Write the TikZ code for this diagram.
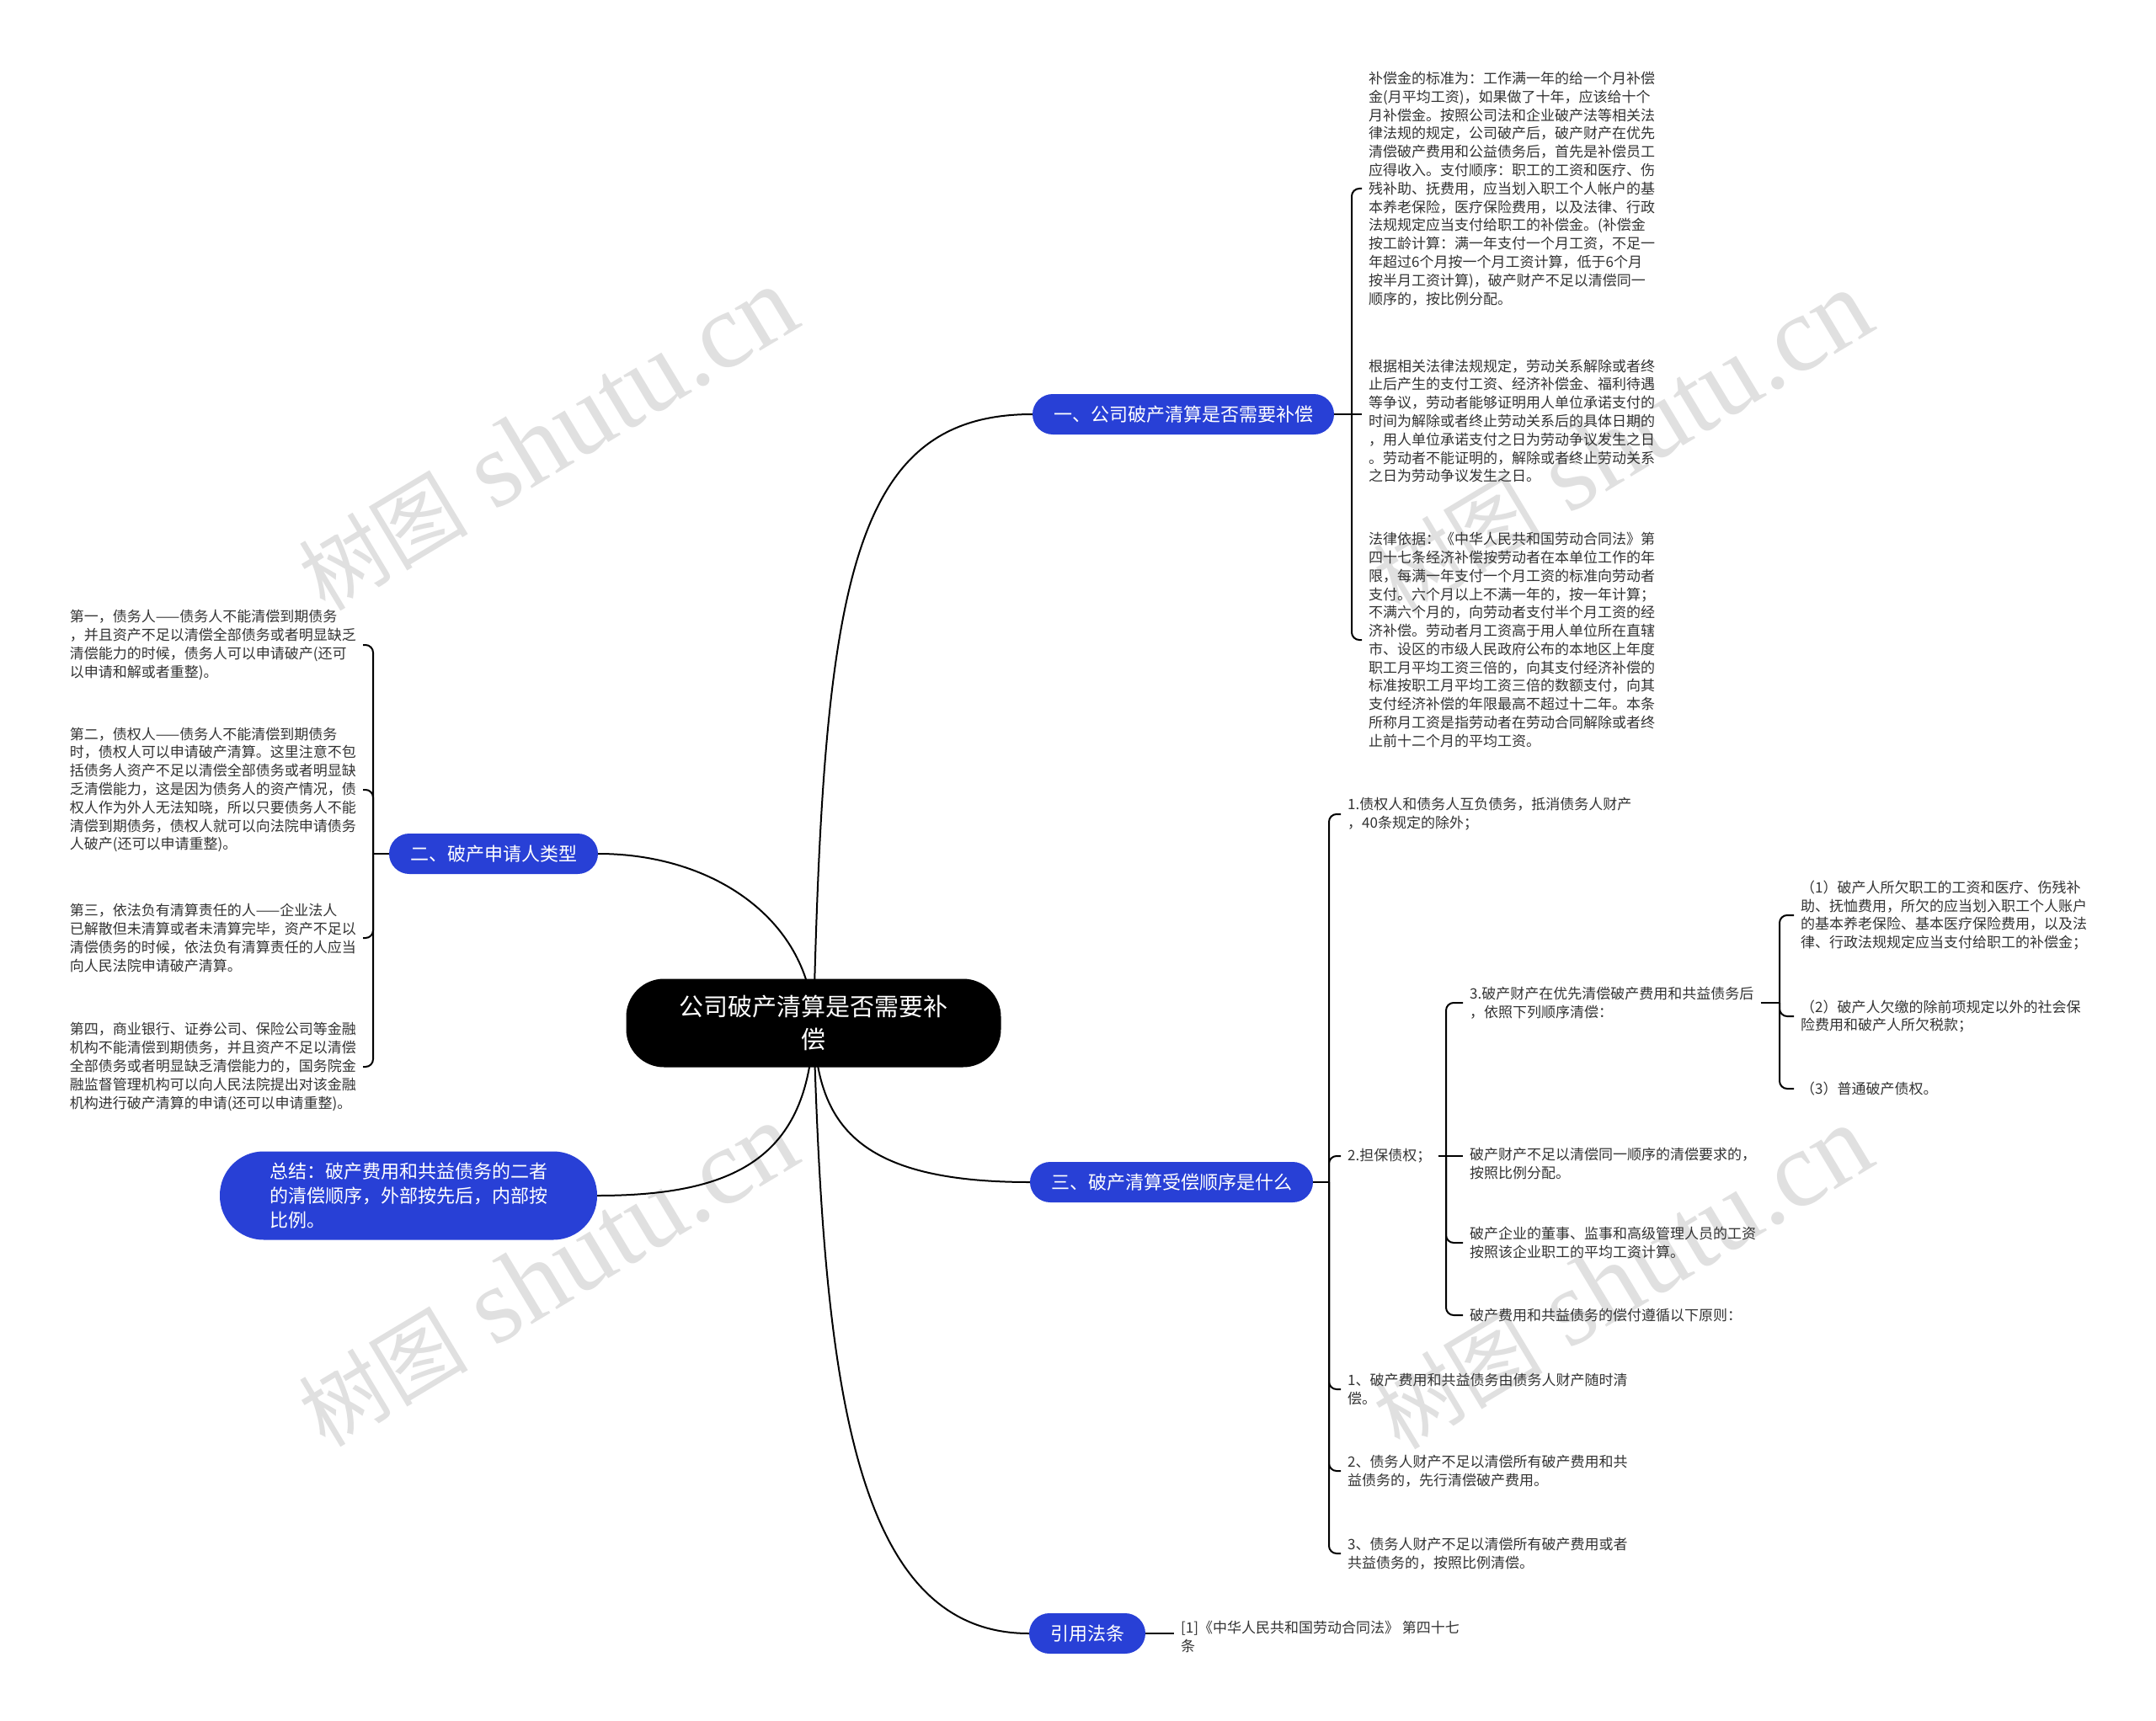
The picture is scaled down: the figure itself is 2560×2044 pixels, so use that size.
\documentclass[tikz,border=0pt]{standalone}
\usepackage{fontspec}
\setmainfont{Noto Sans CJK SC}
\newfontfamily\wmserif{Liberation Serif}
\usetikzlibrary{backgrounds}
\definecolor{bblue}{RGB}{40,64,214}
\definecolor{txt}{RGB}{51,51,51}
\definecolor{wm}{RGB}{224,224,224}
\newcommand{\wmtext}{{\fontsize{101}{105}\selectfont 树图}{\wmserif\fontsize{128}{132}\selectfont\ shutu.cn}}
\tikzset{
  rootnode/.style={fill=black, text=white, rounded corners=45pt, minimum width=445pt, minimum height=105pt, align=center, font=\fontsize{29}{39}\selectfont, inner sep=0pt},
  branch/.style={fill=bblue, text=white, rounded corners=24pt, minimum height=48pt, inner xsep=25pt, inner ysep=0pt, font=\fontsize{22}{28}\selectfont},
  sumnode/.style={fill=bblue, text=white, rounded corners=52pt, minimum width=448pt, minimum height=105pt, align=left, font=\fontsize{22}{29.4}\selectfont},
  leaf/.style={text=txt, align=left, font=\fontsize{17}{21.8}\selectfont, inner xsep=8pt, inner ysep=2pt},
  conn/.style={draw=black, line width=2pt},
  brk/.style={draw=black, line width=2pt, rounded corners=9pt},
  wmark/.style={text=wm, rotate=31, inner sep=0pt},
}
\begin{document}
\begin{tikzpicture}[x=1pt,y=-1pt]
\useasboundingbox (0,0) rectangle (2560,2044);

% root and branches
\node[rootnode] (root) at (966,1215) {公司破产清算是否需要补\\偿};
\node[branch] (b1) at (1405,492) {一、公司破产清算是否需要补偿};
\node[branch] (b2) at (586,1014) {二、破产申请人类型};
\node[branch] (b3) at (1391,1404) {三、破产清算受偿顺序是什么};
\node[branch] (b4) at (1291,1940) {引用法条};
\node[sumnode] (sum) at (485,1420) {总结：破产费用和共益债务的二者\\的清偿顺序，外部按先后，内部按\\比例。};

% branch 1 leaves
\node[leaf, anchor=west] (t11) at (1617,224) {补偿金的标准为：工作满一年的给一个月补偿\\
金(月平均工资)，如果做了十年，应该给十个\\
月补偿金。按照公司法和企业破产法等相关法\\
律法规的规定，公司破产后，破产财产在优先\\
清偿破产费用和公益债务后，首先是补偿员工\\
应得收入。支付顺序：职工的工资和医疗、伤\\
残补助、抚费用，应当划入职工个人帐户的基\\
本养老保险，医疗保险费用，以及法律、行政\\
法规规定应当支付给职工的补偿金。(补偿金\\
按工龄计算：满一年支付一个月工资，不足一\\
年超过6个月按一个月工资计算，低于6个月\\
按半月工资计算)，破产财产不足以清偿同一\\
顺序的，按比例分配。};
\node[leaf, anchor=west] (t12) at (1617,500) {根据相关法律法规规定，劳动关系解除或者终\\
止后产生的支付工资、经济补偿金、福利待遇\\
等争议，劳动者能够证明用人单位承诺支付的\\
时间为解除或者终止劳动关系后的具体日期的\\
，用人单位承诺支付之日为劳动争议发生之日\\
。劳动者不能证明的，解除或者终止劳动关系\\
之日为劳动争议发生之日。};
\node[leaf, anchor=west] (t13) at (1617,760) {法律依据：《中华人民共和国劳动合同法》第\\
四十七条经济补偿按劳动者在本单位工作的年\\
限，每满一年支付一个月工资的标准向劳动者\\
支付。六个月以上不满一年的，按一年计算；\\
不满六个月的，向劳动者支付半个月工资的经\\
济补偿。劳动者月工资高于用人单位所在直辖\\
市、设区的市级人民政府公布的本地区上年度\\
职工月平均工资三倍的，向其支付经济补偿的\\
标准按职工月平均工资三倍的数额支付，向其\\
支付经济补偿的年限最高不超过十二年。本条\\
所称月工资是指劳动者在劳动合同解除或者终\\
止前十二个月的平均工资。};

% branch 2 leaves
\node[leaf, anchor=east] (l1) at (431,766) {第一，债务人——债务人不能清偿到期债务\\
，并且资产不足以清偿全部债务或者明显缺乏\\
清偿能力的时候，债务人可以申请破产(还可\\
以申请和解或者重整)。};
\node[leaf, anchor=east] (l2) at (431,938) {第二，债权人——债务人不能清偿到期债务\\
时，债权人可以申请破产清算。这里注意不包\\
括债务人资产不足以清偿全部债务或者明显缺\\
乏清偿能力，这是因为债务人的资产情况，债\\
权人作为外人无法知晓，所以只要债务人不能\\
清偿到期债务，债权人就可以向法院申请债务\\
人破产(还可以申请重整)。};
\node[leaf, anchor=east] (l3) at (431,1114) {第三，依法负有清算责任的人——企业法人\\
已解散但未清算或者未清算完毕，资产不足以\\
清偿债务的时候，依法负有清算责任的人应当\\
向人民法院申请破产清算。};
\node[leaf, anchor=east] (l4) at (431,1267) {第四，商业银行、证券公司、保险公司等金融\\
机构不能清偿到期债务，并且资产不足以清偿\\
全部债务或者明显缺乏清偿能力的，国务院金\\
融监督管理机构可以向人民法院提出对该金融\\
机构进行破产清算的申请(还可以申请重整)。};

% branch 3 leaves
\node[leaf, anchor=west] (c1) at (1592,967) {1.债权人和债务人互负债务，抵消债务人财产\\，40条规定的除外；};
\node[leaf, anchor=west] (c2) at (1592,1373) {2.担保债权；};
\node[leaf, anchor=west] (c3) at (1592,1650) {1、破产费用和共益债务由债务人财产随时清\\偿。};
\node[leaf, anchor=west] (c4) at (1592,1747) {2、债务人财产不足以清偿所有破产费用和共\\益债务的，先行清偿破产费用。};
\node[leaf, anchor=west] (c5) at (1592,1845) {3、债务人财产不足以清偿所有破产费用或者\\共益债务的，按照比例清偿。};

\node[leaf, anchor=west] (d1) at (1737,1191) {3.破产财产在优先清偿破产费用和共益债务后\\，依照下列顺序清偿：};
\node[leaf, anchor=west] (d2) at (1737,1382) {破产财产不足以清偿同一顺序的清偿要求的，\\按照比例分配。};
\node[leaf, anchor=west] (d3) at (1737,1476) {破产企业的董事、监事和高级管理人员的工资\\按照该企业职工的平均工资计算。};
\node[leaf, anchor=west] (d4) at (1737,1562) {破产费用和共益债务的偿付遵循以下原则：};

\node[leaf, anchor=west] (e1) at (2130,1087) {（1）破产人所欠职工的工资和医疗、伤残补\\
助、抚恤费用，所欠的应当划入职工个人账户\\
的基本养老保险、基本医疗保险费用，以及法\\
律、行政法规规定应当支付给职工的补偿金；};
\node[leaf, anchor=west] (e2) at (2130,1207) {（2）破产人欠缴的除前项规定以外的社会保\\险费用和破产人所欠税款；};
\node[leaf, anchor=west] (e3) at (2130,1293) {（3）普通破产债权。};

% branch 4 leaf
\node[leaf, anchor=west] (cite) at (1394,1944) {[1]《中华人民共和国劳动合同法》 第四十七\\条};

% junctions
\coordinate (J1) at (1605,492);
\coordinate (J2) at (443,1014);
\coordinate (J3) at (1578,1404);
\coordinate (J4) at (1717,1373);
\coordinate (J5) at (2113,1191);

\begin{pgfonlayer}{background}
\fill[white] (0,0) rectangle (2560,2044);
% watermarks
\node[wmark] (w1) at (650,522) {\wmtext};
\node[wmark] (w2) at (650,1515) {\wmtext};
\node[wmark] (w3) at (1926,526) {\wmtext};
\node[wmark] (w4) at (1926,1518) {\wmtext};

% root connectors
\draw[conn] (root.center) .. controls (978,690) and (1012,492) .. (b1.west);
\draw[conn] (root.center) .. controls (970,1330) and (1010,1404) .. (b3.west);
\draw[conn] (root.center) .. controls (978,1640) and (1012,1940) .. (b4.west);
\draw[conn] (root.center) .. controls (962,1095) and (850,1014) .. (b2.east);
\draw[conn] (root.center) .. controls (962,1370) and (880,1420) .. (sum.east);

% branch 1
\draw[conn] (b1.east) -- (J1) -- (t12.west |- J1);
\draw[brk] (J1) |- (t11.west);
\draw[brk] (J1) |- (t13.west);

% branch 2
\draw[conn] (b2.west) -- (J2);
\draw[brk] (J2) |- (l1.east);
\draw[brk] (J2) |- (l2.east);
\draw[brk] (J2) |- (l3.east);
\draw[brk] (J2) |- (l4.east);

% branch 3
\draw[conn] (b3.east) -- (J3);
\draw[brk] (J3) |- (c1.west);
\draw[brk] (J3) |- (c2.west);
\draw[brk] (J3) |- (c3.west);
\draw[brk] (J3) |- (c4.west);
\draw[brk] (J3) |- (c5.west);

% 2.担保债权
\draw[conn] (c2.east) -- (J4) -- (d2.west |- J4);
\draw[brk] (J4) |- (d1.west);
\draw[brk] (J4) |- (d3.west);
\draw[brk] (J4) |- (d4.west);

% 3.破产财产
\draw[conn] (d1.east) -- (J5);
\draw[brk] (J5) |- (e1.west);
\draw[brk] (J5) |- (e2.west);
\draw[brk] (J5) |- (e3.west);

% branch 4
\draw[conn] (b4.east) -- (cite.west |- b4.east);
\end{pgfonlayer}
\end{tikzpicture}
\end{document}
